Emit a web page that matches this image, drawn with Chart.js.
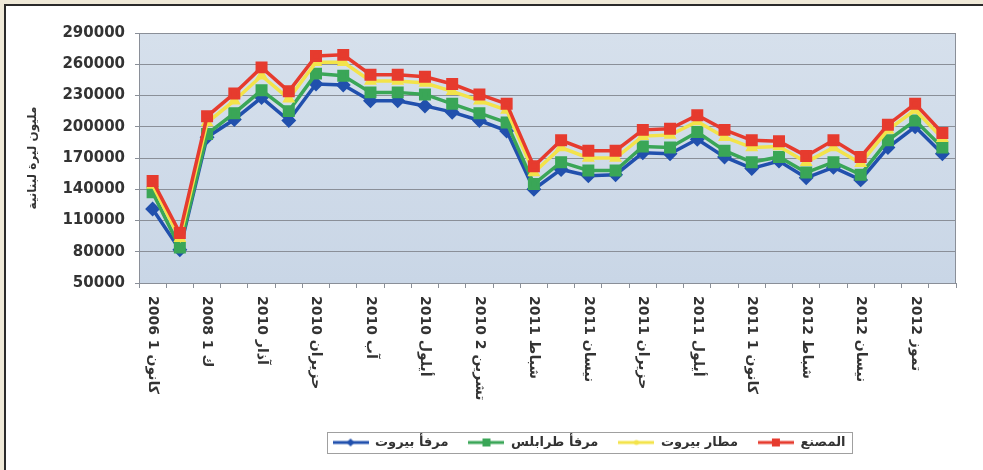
<!DOCTYPE html>
<html>
<head>
<meta charset="utf-8">
<script src="https://cdn.jsdelivr.net/npm/chart.js"></script>
<style>
  html, body { margin: 0; padding: 0; background: #efe9d8; overflow: hidden; }
  #frame { position: absolute; left: 4px; top: 4px; width: 1000px; height: 480px;
           border-left: 2px solid #2a2a2a; border-top: 2px solid #2a2a2a; background: #fff; }
  canvas { display: block; }
</style>
</head>
<body>
<div id="frame"><canvas id="chart" width="977" height="464"></canvas></div>
<script>
// الفئات (تسمية كل فئة ثانية فقط كما في الأصل)
const categories = ['كانون 1 2006', '', 'ك 1 2008', '', 'آذار 2010', '', 'حزيران 2010', '',
  'آب 2010', '', 'أيلول 2010', '', 'تشرين 2 2010', '', 'شباط 2011', '', 'نيسان 2011', '',
  'حزيران 2011', '', 'أيلول 2011', '', 'كانون 1 2011', '', 'شباط 2012', '', 'نيسان 2012', '',
  'تموز 2012', ''];

// القيم بالمليون ليرة لبنانية
const masnaa = [148000, 98000, 210000, 232000, 257000, 234000, 268000, 269000, 250000, 250000,
  248000, 241000, 231000, 222000, 162000, 187000, 177000, 177000, 197000, 198000,
  211000, 197000, 187000, 186000, 172000, 187000, 171000, 202000, 222000, 194000];
const matarBeirut = [144000, 93000, 204000, 225000, 249000, 227000, 262000, 262000, 244000, 244000,
  242000, 234000, 225000, 216000, 156000, 180000, 170000, 170000, 191000, 192000,
  205000, 190000, 180000, 181000, 166000, 180000, 165000, 197000, 216000, 189000];
const marfaTripoli = [137000, 84000, 193000, 213000, 235000, 215000, 251000, 249000, 233000, 233000,
  231000, 222000, 213000, 204000, 145000, 166000, 158000, 158000, 181000, 180000,
  195000, 177000, 166000, 171000, 156000, 166000, 154000, 187000, 206000, 180000];
const marfaBeirut = [121000, 82000, 190000, 207000, 228000, 206000, 241000, 240000, 225000, 225000,
  220000, 214000, 206000, 196000, 140000, 159000, 153000, 154000, 175000, 174000,
  188000, 171000, 160000, 167000, 151000, 161000, 149000, 180000, 200000, 174000];

const yTicks = [50000, 80000, 110000, 140000, 170000, 200000, 230000, 260000, 290000];
const yTitle = 'مليون ليرة لبنانية';

const FONT = '"DejaVu Sans", "Liberation Sans", sans-serif';
const TXT = '#333333';
const LEGEND_CENTER = 593; // مركز المفتاح أفقياً داخل اللوحة

// أيقونة المفتاح: خط مع علامة
function legendIcon(color, shape, size) {
  const c = document.createElement('canvas');
  c.width = 36; c.height = 14;
  const g = c.getContext('2d');
  g.strokeStyle = color; g.lineWidth = 3;
  g.beginPath(); g.moveTo(0, 7); g.lineTo(36, 7); g.stroke();
  g.fillStyle = color;
  g.beginPath();
  if (shape === 'rect') {
    g.rect(18 - size / 2, 7 - size / 2, size, size);
  } else if (shape === 'rectRot') {
    g.moveTo(18, 7 - size / 2); g.lineTo(18 + size / 2, 7);
    g.lineTo(18, 7 + size / 2); g.lineTo(18 - size / 2, 7);
  } else {
    g.arc(18, 7, size / 2, 0, Math.PI * 2);
  }
  g.fill();
  return c;
}

const icons = [
  legendIcon('#e63b2e', 'rect', 8),
  legendIcon('#f3e34a', 'circle', 5),
  legendIcon('#3aa657', 'rect', 8),
  legendIcon('#2150ad', 'rectRot', 8)
];

const plotBack = {
  id: 'plotBack',
  afterLayout(chart) {
    const lg = chart.legend;
    const dx = LEGEND_CENTER - (lg.left + lg.right + lg.options.labels.padding) / 2;
    lg.left += dx; lg.right += dx;
  },
  beforeDraw(chart) {
    const {ctx, chartArea: a} = chart;
    const grad = ctx.createLinearGradient(0, a.top, 0, a.bottom);
    grad.addColorStop(0, '#d6e0ec');
    grad.addColorStop(1, '#c9d6e6');
    ctx.save();
    ctx.fillStyle = grad;
    ctx.fillRect(a.left, a.top, a.right - a.left, a.bottom - a.top);
    ctx.restore();
  },
  beforeDatasetsDraw(chart) {
    const {ctx, chartArea: a} = chart;
    ctx.save();
    ctx.strokeStyle = '#8a8f98';
    ctx.lineWidth = 1;
    ctx.beginPath();
    ctx.moveTo(a.left, a.top + 0.5); ctx.lineTo(a.right - 0.5, a.top + 0.5);
    ctx.lineTo(a.right - 0.5, a.bottom);
    ctx.stroke();
    ctx.restore();
  }
};

const xLabels = {
  id: 'xLabels',
  afterDraw(chart) {
    const ctx = chart.ctx, xs = chart.scales.x, top = chart.chartArea.bottom + 13;
    ctx.save();
    ctx.font = 'bold 14px ' + FONT;
    ctx.fillStyle = TXT;
    ctx.direction = 'rtl';
    ctx.textAlign = 'left';
    ctx.textBaseline = 'middle';
    categories.forEach((lab, i) => {
      if (!lab) return;
      ctx.save();
      ctx.translate(xs.getPixelForValue(i), top);
      ctx.rotate(Math.PI / 2);
      ctx.fillText(lab, 0, 0);
      ctx.restore();
    });
    ctx.restore();

    // إطار المفتاح حول عناصره
    const lg = chart.legend;
    const pad = lg.options.labels.padding;
    const w = lg.lineWidths[0];
    const l = (lg.left + pad + lg.right - w) / 2 - 6;
    const r = l + w - pad + 12;
    const t = lg.top + pad - 4;
    ctx.save();
    ctx.strokeStyle = '#a0a0a0';
    ctx.lineWidth = 1;
    ctx.strokeRect(Math.round(l) + 0.5, Math.round(t) + 0.5, Math.round(r - l), 21);
    ctx.restore();
  }
};

new Chart(document.getElementById('chart'), {
  type: 'line',
  data: {
    labels: categories,
    datasets: [
      { label: 'المصنع', data: masnaa, borderColor: '#e63b2e', backgroundColor: '#e63b2e',
        pointStyle: 'rect', pointRadius: 6, borderWidth: 3.5 },
      { label: 'مطار بيروت', data: matarBeirut, borderColor: '#f3e34a', backgroundColor: '#f3e34a',
        pointStyle: 'triangle', pointRadius: 4, borderWidth: 3.5 },
      { label: 'مرفأ طرابلس', data: marfaTripoli, borderColor: '#3aa657', backgroundColor: '#3aa657',
        pointStyle: 'rect', pointRadius: 6, borderWidth: 3.5 },
      { label: 'مرفأ بيروت', data: marfaBeirut, borderColor: '#2150ad', backgroundColor: '#2150ad',
        pointStyle: 'rectRot', pointRadius: 5, borderWidth: 3.5 }
    ]
  },
  options: {
    responsive: false,
    animation: false,
    layout: { padding: { left: 20, right: 27, top: 27, bottom: 11 } },
    scales: {
      x: {
        offset: true,
        grid: { display: true, drawOnChartArea: false, drawTicks: true, tickLength: 5,
                color: '#8a8f98', offset: true },
        border: { color: '#8a8f98', width: 1 },
        ticks: { display: false, autoSkip: false },
        afterFit(scale) { scale.height = 133; }
      },
      y: {
        min: yTicks[0], max: yTicks[yTicks.length - 1],
        afterBuildTicks(scale) { scale.ticks = yTicks.map(v => ({ value: v })); },
        grid: { color: '#8a8f98', lineWidth: 1, tickLength: 4 },
        border: { color: '#8a8f98', width: 1 },
        ticks: { color: TXT, padding: 10, font: { family: FONT, size: 15, weight: 'bold' },
                 callback: v => String(v) },
        title: { display: true, text: yTitle, color: TXT, padding: { top: 0, bottom: 0 },
                 font: { family: FONT, size: 12, weight: 'bold' } },
        afterFit(scale) { scale.width = 113; }
      }
    },
    plugins: {
      tooltip: { enabled: false },
      legend: {
        position: 'bottom',
        reverse: true,
        labels: {
          usePointStyle: true,
          pointStyleWidth: 36,
          padding: 20,
          color: TXT,
          font: { family: FONT, size: 13, weight: 'bold' },
          generateLabels(chart) {
            return Chart.defaults.plugins.legend.labels.generateLabels(chart).map(it => {
              it.pointStyle = icons[it.datasetIndex];
              return it;
            });
          }
        }
      }
    }
  },
  plugins: [plotBack, xLabels]
});
</script>
</body>
</html>
